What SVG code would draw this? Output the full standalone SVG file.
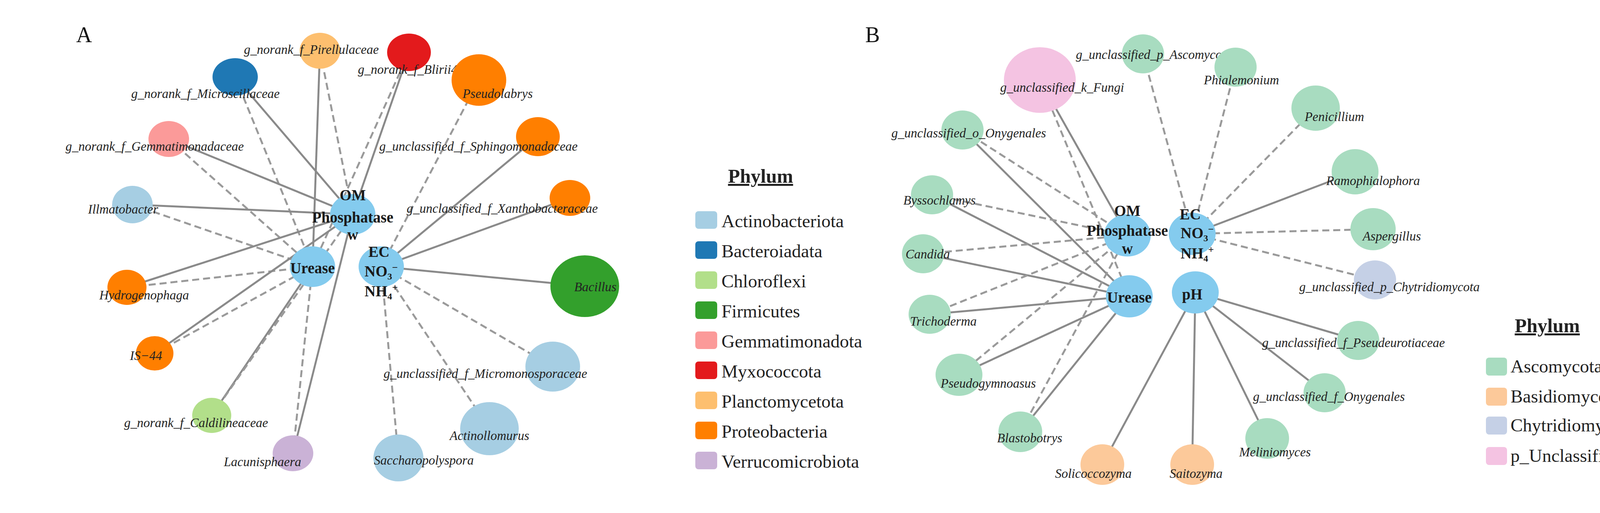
<svg xmlns="http://www.w3.org/2000/svg" width="4377" height="1314" viewBox="0 0 4377 1314">
<style>
.s{stroke:#8a8a8a;stroke-width:5;fill:none}
.d{stroke:#9a9a9a;stroke-width:5;fill:none;stroke-dasharray:18 10}
.lb{font-family:"Liberation Serif",serif;font-style:italic;font-size:33px;fill:#222;text-anchor:middle}
.st{text-anchor:start}
.hb{font-family:"Liberation Serif",serif;font-weight:bold;font-size:39px;fill:#1a1a1a;text-anchor:middle}
.lg{font-family:"Liberation Serif",serif;font-size:47px;fill:#222}
.lt{font-family:"Liberation Serif",serif;font-weight:bold;font-size:50px;fill:#222;text-anchor:middle;text-decoration:underline}
.pn{font-family:"Liberation Serif",serif;font-size:56px;fill:#111}
.hub{fill:#84cbee}
</style>
<rect width="4377" height="1314" fill="#fff"/>
<text class="pn" x="195" y="108">A</text>
<text class="pn" x="2215" y="108">B</text>
<g id="connectors">
<line class="s" x1="819" y1="130" x2="800" y2="683"/><line class="d" x1="819" y1="130" x2="903" y2="549"/>
<line class="s" x1="1047" y1="134" x2="903" y2="549"/><line class="d" x1="1047" y1="134" x2="800" y2="683"/>
<line class="s" x1="602" y1="197" x2="903" y2="549"/><line class="d" x1="602" y1="197" x2="800" y2="683"/>
<line class="d" x1="1226" y1="205" x2="976" y2="683"/>
<line class="s" x1="432" y1="356" x2="903" y2="549"/><line class="d" x1="432" y1="356" x2="800" y2="683"/>
<line class="s" x1="1377" y1="350" x2="976" y2="683"/>
<line class="s" x1="1459" y1="507" x2="976" y2="683"/>
<line class="s" x1="339" y1="524" x2="903" y2="549"/><line class="d" x1="339" y1="524" x2="800" y2="683"/>
<line class="s" x1="325" y1="736" x2="903" y2="549"/><line class="d" x1="325" y1="736" x2="800" y2="683"/>
<line class="s" x1="396" y1="905" x2="903" y2="549"/><line class="d" x1="396" y1="905" x2="800" y2="683"/>
<line class="s" x1="1497" y1="733" x2="976" y2="683"/>
<line class="d" x1="1415" y1="939" x2="976" y2="683"/>
<line class="d" x1="1253" y1="1098" x2="976" y2="683"/>
<line class="d" x1="1020" y1="1173" x2="976" y2="683"/>
<line class="s" x1="542" y1="1064" x2="800" y2="683"/><line class="d" x1="542" y1="1064" x2="903" y2="549"/>
<line class="s" x1="750" y1="1161" x2="903" y2="549"/><line class="d" x1="750" y1="1161" x2="800" y2="683"/>
<line class="s" x1="2662" y1="205" x2="2886" y2="603"/><line class="d" x1="2662" y1="205" x2="2891" y2="759"/>
<line class="d" x1="2926" y1="138" x2="3052" y2="599"/>
<line class="d" x1="3163" y1="172" x2="3052" y2="599"/>
<line class="d" x1="3368" y1="277" x2="3052" y2="599"/>
<line class="s" x1="2464" y1="333" x2="2891" y2="759"/><line class="d" x1="2464" y1="333" x2="2886" y2="603"/>
<line class="s" x1="3469" y1="440" x2="3052" y2="599"/>
<line class="s" x1="2386" y1="499" x2="2891" y2="759"/><line class="d" x1="2386" y1="499" x2="2886" y2="603"/>
<line class="d" x1="3515" y1="587" x2="3052" y2="599"/>
<line class="s" x1="2363" y1="650" x2="2891" y2="759"/><line class="d" x1="2363" y1="650" x2="2886" y2="603"/>
<line class="d" x1="3520" y1="717" x2="3052" y2="599"/>
<line class="s" x1="2380" y1="805" x2="2891" y2="759"/><line class="d" x1="2380" y1="805" x2="2886" y2="603"/>
<line class="s" x1="3477" y1="872" x2="3060" y2="749"/>
<line class="s" x1="2455" y1="960" x2="2891" y2="759"/><line class="d" x1="2455" y1="960" x2="2886" y2="603"/>
<line class="s" x1="3391" y1="1006" x2="3060" y2="749"/>
<line class="s" x1="2612" y1="1106" x2="2891" y2="759"/><line class="d" x1="2612" y1="1106" x2="2886" y2="603"/>
<line class="s" x1="3244" y1="1123" x2="3060" y2="749"/>
<line class="s" x1="2822" y1="1190" x2="3060" y2="749"/>
<line class="s" x1="3052" y1="1190" x2="3060" y2="749"/>
</g>
<g id="pir"><ellipse cx="819" cy="130" rx="52" ry="46" fill="#fdbf6f"/><text class="lb" x="797" y="138">g_norank_f_Pirellulaceae</text></g>
<g id="bli"><ellipse cx="1047" cy="134" rx="56" ry="48" fill="#e31a1c"/><text class="lb" x="1052" y="189">g_norank_f_Blirii41</text></g>
<g id="mic"><ellipse cx="602" cy="197" rx="58" ry="48" fill="#1f78b4"/><text class="lb" x="526" y="251">g_norank_f_Microscillaceae</text></g>
<g id="pse"><ellipse cx="1226" cy="205" rx="70" ry="66" fill="#ff7f00"/><text class="lb" x="1274" y="251">Pseudolabrys</text></g>
<g id="gem"><ellipse cx="432" cy="356" rx="52" ry="46" fill="#fb9a99"/><text class="lb" x="396" y="386">g_norank_f_Gemmatimonadaceae</text></g>
<g id="sph"><ellipse cx="1377" cy="350" rx="56" ry="50" fill="#ff7f00"/><text class="lb st" x="971" y="386">g_unclassified_f_Sphingomonadaceae</text></g>
<g id="xan"><ellipse cx="1459" cy="507" rx="52" ry="46" fill="#ff7f00"/><text class="lb st" x="1041" y="545">g_unclassified_f_Xanthobacteraceae</text></g>
<g id="ill"><ellipse cx="339" cy="524" rx="52" ry="48" fill="#a6cee3"/><text class="lb" x="315" y="547">Illmatobacter</text></g>
<g id="hyd"><ellipse cx="325" cy="736" rx="50" ry="45" fill="#ff7f00"/><text class="lb" x="369" y="767">Hydrogenophaga</text></g>
<g id="is44"><ellipse cx="396" cy="905" rx="48" ry="44" fill="#ff7f00"/><text class="lb" x="374" y="922">IS−44</text></g>
<g id="bac"><ellipse cx="1497" cy="733" rx="88" ry="79" fill="#33a02c"/><text class="lb" x="1524" y="746">Bacillus</text></g>
<g id="mmc"><ellipse cx="1415" cy="939" rx="70" ry="64" fill="#a6cee3"/><text class="lb st" x="982" y="968">g_unclassified_f_Micromonosporaceae</text></g>
<g id="act"><ellipse cx="1253" cy="1098" rx="75" ry="68" fill="#a6cee3"/><text class="lb" x="1253" y="1127">Actinollomurus</text></g>
<g id="sac"><ellipse cx="1020" cy="1173" rx="64" ry="60" fill="#a6cee3"/><text class="lb" x="1085" y="1190">Saccharopolyspora</text></g>
<g id="cal"><ellipse cx="542" cy="1064" rx="50" ry="45" fill="#b2df8a"/><text class="lb" x="502" y="1094">g_norank_f_Caldilineaceae</text></g>
<g id="lac"><ellipse cx="750" cy="1161" rx="52" ry="46" fill="#cab2d6"/><text class="lb" x="672" y="1194">Lacunisphaera</text></g>
<g id="hubA_om"><ellipse class="hub" cx="903" cy="549" rx="58" ry="52"/><text class="hb" x="903" y="513">OM</text><text class="hb" x="903" y="570">Phosphatase</text><text class="hb" x="903" y="614" font-size="30">w</text></g>
<g id="hubA_ur"><ellipse class="hub" cx="800" cy="683" rx="58" ry="52"/><text class="hb" x="800" y="700">Urease</text></g>
<g id="hubA_ec"><ellipse class="hub" cx="976" cy="683" rx="58" ry="52"/><text class="hb" x="970" y="658">EC</text><text class="hb" x="976" y="708">NO<tspan font-size="24" dy="8">3</tspan><tspan font-size="26" dy="-22">−</tspan></text><text class="hb" x="976" y="759">NH<tspan font-size="24" dy="8">4</tspan><tspan font-size="26" dy="-22">+</tspan></text></g>
<g id="legendA">
<text class="lt" x="1947" y="468">Phylum</text>
<rect x="1780" y="541" width="56" height="45" rx="8" fill="#a6cee3"/><text class="lg" x="1847" y="582">Actinobacteriota</text>
<rect x="1780" y="618" width="56" height="45" rx="8" fill="#1f78b4"/><text class="lg" x="1847" y="659">Bacteroiadata</text>
<rect x="1780" y="695" width="56" height="45" rx="8" fill="#b2df8a"/><text class="lg" x="1847" y="736">Chloroflexi</text>
<rect x="1780" y="772" width="56" height="45" rx="8" fill="#33a02c"/><text class="lg" x="1847" y="813">Firmicutes</text>
<rect x="1780" y="849" width="56" height="45" rx="8" fill="#fb9a99"/><text class="lg" x="1847" y="890">Gemmatimonadota</text>
<rect x="1780" y="926" width="56" height="45" rx="8" fill="#e31a1c"/><text class="lg" x="1847" y="967">Myxococcota</text>
<rect x="1780" y="1003" width="56" height="45" rx="8" fill="#fdbf6f"/><text class="lg" x="1847" y="1044">Planctomycetota</text>
<rect x="1780" y="1080" width="56" height="45" rx="8" fill="#ff7f00"/><text class="lg" x="1847" y="1121">Proteobacteria</text>
<rect x="1780" y="1157" width="56" height="45" rx="8" fill="#cab2d6"/><text class="lg" x="1847" y="1198">Verrucomicrobiota</text>
</g>
<g id="fun"><ellipse cx="2662" cy="205" rx="92" ry="84" fill="#f4c3e2"/><text class="lb" x="2719" y="235">g_unclassified_k_Fungi</text></g>
<g id="asc"><ellipse cx="2926" cy="138" rx="54" ry="50" fill="#a8dcc0"/><text class="lb" x="2954" y="151">g_unclassified_p_Ascomycota</text></g>
<g id="phi"><ellipse cx="3163" cy="172" rx="54" ry="50" fill="#a8dcc0"/><text class="lb" x="3178" y="216">Phialemonium</text></g>
<g id="pen"><ellipse cx="3368" cy="277" rx="62" ry="58" fill="#a8dcc0"/><text class="lb" x="3416" y="310">Penicillium</text></g>
<g id="ony"><ellipse cx="2464" cy="333" rx="54" ry="50" fill="#a8dcc0"/><text class="lb" x="2480" y="352">g_unclassified_o_Onygenales</text></g>
<g id="ram"><ellipse cx="3469" cy="440" rx="60" ry="58" fill="#a8dcc0"/><text class="lb" x="3515" y="474">Ramophialophora</text></g>
<g id="bys"><ellipse cx="2386" cy="499" rx="54" ry="50" fill="#a8dcc0"/><text class="lb" x="2405" y="524">Byssochlamys</text></g>
<g id="asp"><ellipse cx="3515" cy="587" rx="58" ry="54" fill="#a8dcc0"/><text class="lb" x="3563" y="616">Aspergillus</text></g>
<g id="can"><ellipse cx="2363" cy="650" rx="54" ry="50" fill="#a8dcc0"/><text class="lb" x="2375" y="662">Candida</text></g>
<g id="chy"><ellipse cx="3520" cy="717" rx="54" ry="50" fill="#c5d0e6"/><text class="lb" x="3557" y="746">g_unclassified_p_Chytridiomycota</text></g>
<g id="tri"><ellipse cx="2380" cy="805" rx="54" ry="50" fill="#a8dcc0"/><text class="lb" x="2415" y="834">Trichoderma</text></g>
<g id="pseu"><ellipse cx="3477" cy="872" rx="54" ry="50" fill="#a8dcc0"/><text class="lb" x="3465" y="889">g_unclassified_f_Pseudeurotiaceae</text></g>
<g id="pgy"><ellipse cx="2455" cy="960" rx="60" ry="54" fill="#a8dcc0"/><text class="lb" x="2530" y="993">Pseudogymnoasus</text></g>
<g id="fon"><ellipse cx="3391" cy="1006" rx="54" ry="50" fill="#a8dcc0"/><text class="lb" x="3402" y="1027">g_unclassified_f_Onygenales</text></g>
<g id="bla"><ellipse cx="2612" cy="1106" rx="56" ry="52" fill="#a8dcc0"/><text class="lb" x="2636" y="1133">Blastobotrys</text></g>
<g id="mel"><ellipse cx="3244" cy="1123" rx="56" ry="52" fill="#a8dcc0"/><text class="lb" x="3264" y="1169">Meliniomyces</text></g>
<g id="sol"><ellipse cx="2822" cy="1190" rx="56" ry="52" fill="#fcc99a"/><text class="lb" x="2799" y="1224">Solicoccozyma</text></g>
<g id="sai"><ellipse cx="3052" cy="1190" rx="56" ry="52" fill="#fcc99a"/><text class="lb" x="3062" y="1224">Saitozyma</text></g>
<g id="hubB_om"><ellipse class="hub" cx="2886" cy="603" rx="60" ry="54"/><text class="hb" x="2886" y="553">OM</text><text class="hb" x="2886" y="604">Phosphatase</text><text class="hb" x="2886" y="650" font-size="30">w</text></g>
<g id="hubB_ec"><ellipse class="hub" cx="3052" cy="599" rx="60" ry="54"/><text class="hb" x="3047" y="562">EC</text><text class="hb" x="3065" y="610">NO<tspan font-size="24" dy="8">3</tspan><tspan font-size="26" dy="-22">−</tspan></text><text class="hb" x="3065" y="662">NH<tspan font-size="24" dy="8">4</tspan><tspan font-size="26" dy="-22">+</tspan></text></g>
<g id="hubB_ur"><ellipse class="hub" cx="2891" cy="759" rx="60" ry="54"/><text class="hb" x="2891" y="775">Urease</text></g>
<g id="hubB_ph"><ellipse class="hub" cx="3060" cy="749" rx="60" ry="54"/><text class="hb" x="3052" y="767">pH</text></g>
<g id="legendB">
<text class="lt" x="3961" y="851">Phylum</text>
<rect x="3804" y="916" width="54" height="46" rx="8" fill="#a8dcc0"/><text class="lg" x="3867" y="954" font-size="45">Ascomycota</text>
<rect x="3804" y="993" width="54" height="46" rx="8" fill="#fcc99a"/><text class="lg" x="3867" y="1031" font-size="45">Basidiomycota</text>
<rect x="3804" y="1067" width="54" height="46" rx="8" fill="#c5d0e6"/><text class="lg" x="3867" y="1105" font-size="45">Chytridiomycota</text>
<rect x="3804" y="1145" width="54" height="46" rx="8" fill="#f4c3e2"/><text class="lg" x="3867" y="1183" font-size="45">p_Unclassified_k_Fungi</text>
</g>
</svg>
